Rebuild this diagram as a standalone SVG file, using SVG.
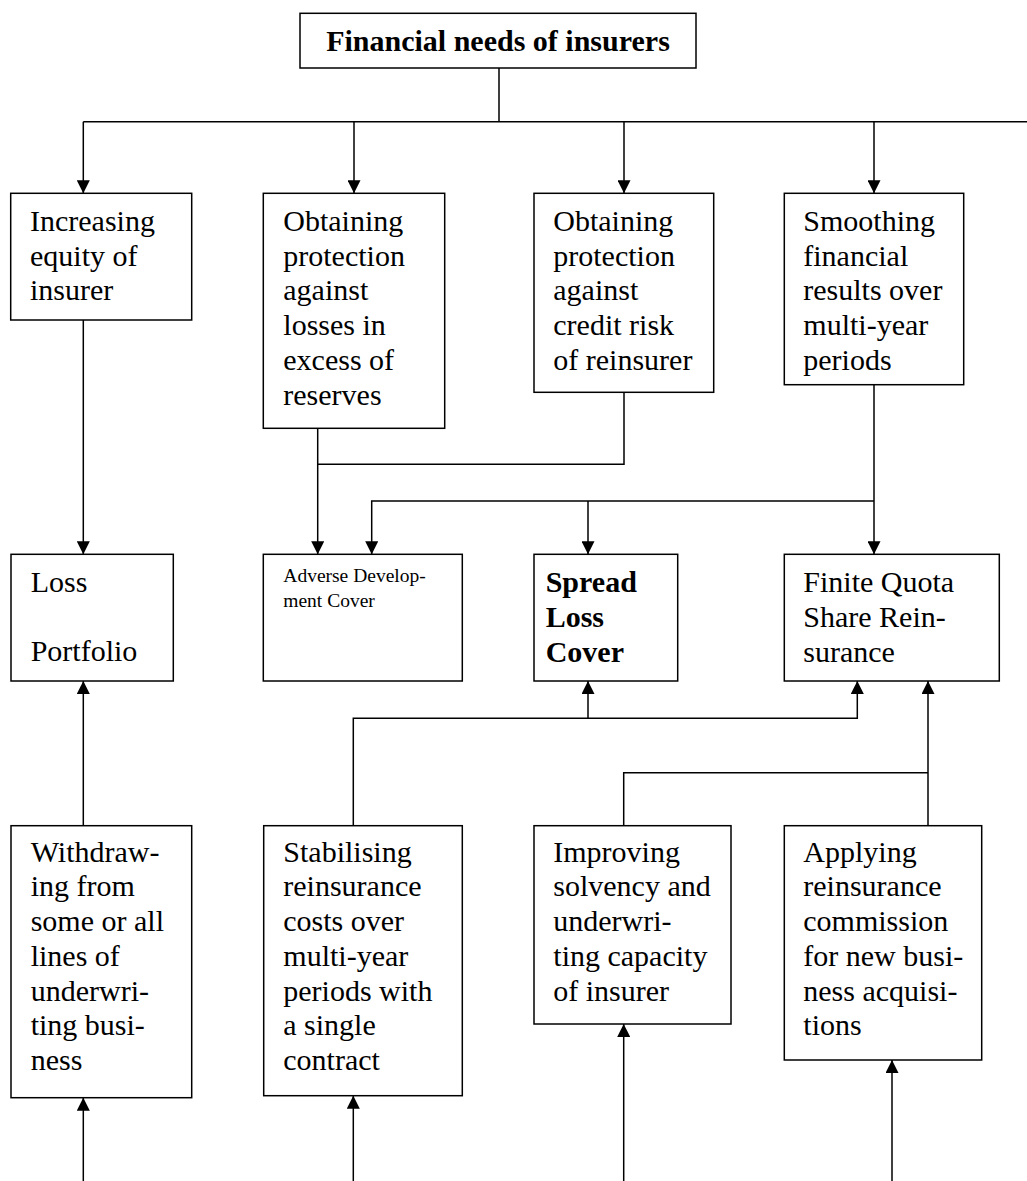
<svg xmlns="http://www.w3.org/2000/svg" width="1027" height="1181" viewBox="0 0 1027 1181">
<style>
.box{fill:#fff;stroke:#000;stroke-width:1.5}
.t{font-family:"Liberation Serif","Times New Roman",serif;font-size:30px;fill:#000}
.b{font-weight:bold}
.s{font-size:19.5px}
.c{fill:none;stroke:#000;stroke-width:1.5}
</style>
<defs>
<marker id="ah" viewBox="0 0 13 13" refX="13" refY="6.5" markerWidth="13" markerHeight="13" markerUnits="userSpaceOnUse" orient="auto">
<path d="M0,0 L13,6.5 L0,13 z" fill="#000"/>
</marker>
</defs>
<rect width="1027" height="1181" fill="#fff"/>
<g id="connectors">
<path class="c" d="M499,68 V121.7 M83.3,121.7 H1030"/>
<path class="c" d="M83.3,121.7 V193.3" marker-end="url(#ah)"/>
<path class="c" d="M354,121.7 V193.3" marker-end="url(#ah)"/>
<path class="c" d="M624,121.7 V193.3" marker-end="url(#ah)"/>
<path class="c" d="M874,121.7 V193.3" marker-end="url(#ah)"/>
<path class="c" d="M83.3,320 V554.3" marker-end="url(#ah)"/>
<path class="c" d="M317.7,428.3 V554.3" marker-end="url(#ah)"/>
<path class="c" d="M624,392.3 V464.3 H317.7"/>
<path class="c" d="M874,384.7 V554.3" marker-end="url(#ah)"/>
<path class="c" d="M874,501 H371.7 V554.3" marker-end="url(#ah)"/>
<path class="c" d="M588,501 V554.3" marker-end="url(#ah)"/>
<path class="c" d="M83.3,825.7 V681" marker-end="url(#ah)"/>
<path class="c" d="M353.3,825.7 V718.3 H857.3 V681" marker-end="url(#ah)"/>
<path class="c" d="M588,718.3 V681" marker-end="url(#ah)"/>
<path class="c" d="M623.7,825.7 V772.7 H928"/>
<path class="c" d="M928,825.7 V681" marker-end="url(#ah)"/>
<path class="c" d="M83.3,1181 V1097.7" marker-end="url(#ah)"/>
<path class="c" d="M353.3,1181 V1095.7" marker-end="url(#ah)"/>
<path class="c" d="M623.7,1181 V1024" marker-end="url(#ah)"/>
<path class="c" d="M892,1181 V1060" marker-end="url(#ah)"/>
</g>
<g id="root">
<rect class="box" x="300" y="13.3" width="396" height="54.7"/>
<text class="t b" x="498" y="51" text-anchor="middle">Financial needs of insurers</text>
</g>
<g id="equity">
<rect class="box" x="10.7" y="193.3" width="181" height="126.7"/>
<text class="t" x="30" y="231">Increasing</text>
<text class="t" x="30" y="265.7">equity of</text>
<text class="t" x="30" y="300.4">insurer</text>
</g>
<g id="lossesExcess">
<rect class="box" x="263.3" y="193.3" width="181.4" height="235"/>
<text class="t" x="283.3" y="231">Obtaining</text>
<text class="t" x="283.3" y="265.7">protection</text>
<text class="t" x="283.3" y="300.4">against</text>
<text class="t" x="283.3" y="335.1">losses in</text>
<text class="t" x="283.3" y="369.8">excess of</text>
<text class="t" x="283.3" y="404.5">reserves</text>
</g>
<g id="creditRisk">
<rect class="box" x="534" y="193.3" width="179.7" height="199"/>
<text class="t" x="553.3" y="231">Obtaining</text>
<text class="t" x="553.3" y="265.7">protection</text>
<text class="t" x="553.3" y="300.4">against</text>
<text class="t" x="553.3" y="335.1">credit risk</text>
<text class="t" x="553.3" y="369.8">of reinsurer</text>
</g>
<g id="smoothing">
<rect class="box" x="784.3" y="193.3" width="179.4" height="191.4"/>
<text class="t" x="803.3" y="231">Smoothing</text>
<text class="t" x="803.3" y="265.7">financial</text>
<text class="t" x="803.3" y="300.4">results over</text>
<text class="t" x="803.3" y="335.1">multi-year</text>
<text class="t" x="803.3" y="369.8">periods</text>
</g>
<g id="lossPortfolio">
<rect class="box" x="11" y="554.3" width="162.3" height="126.7"/>
<text class="t" x="30.7" y="591.7">Loss</text>
<text class="t" x="30.7" y="661">Portfolio</text>
</g>
<g id="adverse">
<rect class="box" x="263.3" y="554.3" width="199" height="126.7"/>
<text class="t s" x="283.3" y="581.7">Adverse Develop-</text>
<text class="t s" x="283.3" y="606.7">ment Cover</text>
</g>
<g id="spreadLoss">
<rect class="box" x="534" y="554.3" width="143.7" height="126.7"/>
<text class="t b" x="545.7" y="591.7">Spread</text>
<text class="t b" x="545.7" y="626.7">Loss</text>
<text class="t b" x="545.7" y="661.7">Cover</text>
</g>
<g id="finiteQuota">
<rect class="box" x="784.3" y="554.3" width="215" height="126.7"/>
<text class="t" x="803.3" y="591.7">Finite Quota</text>
<text class="t" x="803.3" y="626.7">Share Rein-</text>
<text class="t" x="803.3" y="661.7">surance</text>
</g>
<g id="withdrawing">
<rect class="box" x="11" y="825.7" width="180.7" height="272"/>
<text class="t" x="30.7" y="861.7">Withdraw-</text>
<text class="t" x="30.7" y="896.4">ing from</text>
<text class="t" x="30.7" y="931.1">some or all</text>
<text class="t" x="30.7" y="965.8">lines of</text>
<text class="t" x="30.7" y="1000.5">underwri-</text>
<text class="t" x="30.7" y="1035.2">ting busi-</text>
<text class="t" x="30.7" y="1069.9">ness</text>
</g>
<g id="stabilising">
<rect class="box" x="263.7" y="825.7" width="198.6" height="270"/>
<text class="t" x="283.3" y="861.7">Stabilising</text>
<text class="t" x="283.3" y="896.4">reinsurance</text>
<text class="t" x="283.3" y="931.1">costs over</text>
<text class="t" x="283.3" y="965.8">multi-year</text>
<text class="t" x="283.3" y="1000.5">periods with</text>
<text class="t" x="283.3" y="1035.2">a single</text>
<text class="t" x="283.3" y="1069.9">contract</text>
</g>
<g id="improving">
<rect class="box" x="534" y="825.7" width="197" height="198.3"/>
<text class="t" x="553.3" y="861.7">Improving</text>
<text class="t" x="553.3" y="896.4">solvency and</text>
<text class="t" x="553.3" y="931.1">underwri-</text>
<text class="t" x="553.3" y="965.8">ting capacity</text>
<text class="t" x="553.3" y="1000.5">of insurer</text>
</g>
<g id="applying">
<rect class="box" x="784.3" y="825.7" width="197.4" height="234.3"/>
<text class="t" x="803.3" y="861.7">Applying</text>
<text class="t" x="803.3" y="896.4">reinsurance</text>
<text class="t" x="803.3" y="931.1">commission</text>
<text class="t" x="803.3" y="965.8">for new busi-</text>
<text class="t" x="803.3" y="1000.5">ness acquisi-</text>
<text class="t" x="803.3" y="1035.2">tions</text>
</g>
</svg>
